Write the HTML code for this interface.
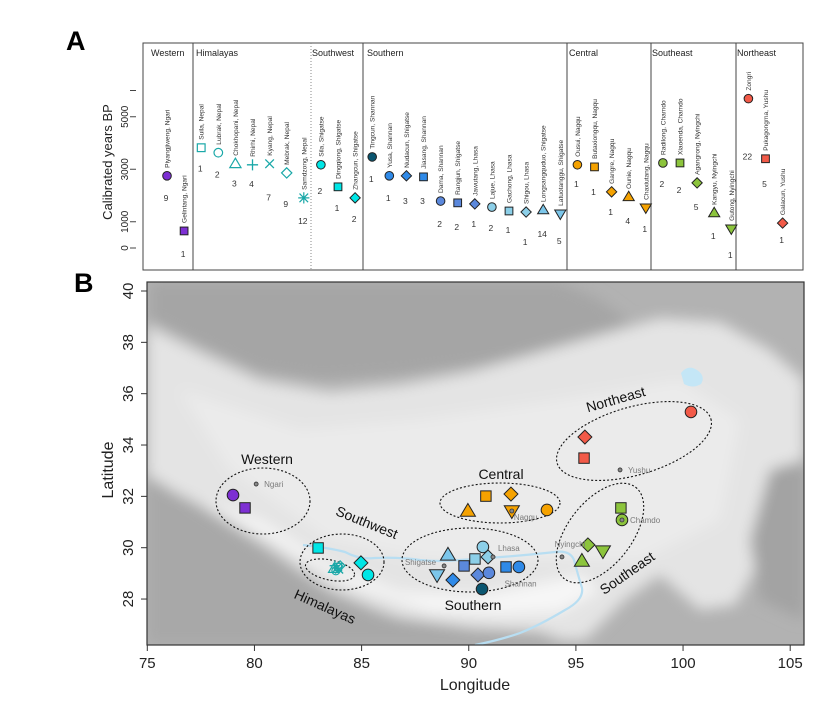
<!DOCTYPE html>
<html><head><meta charset="utf-8"><style>
html,body{margin:0;padding:0;background:#fff}
svg{display:block;font-family:"Liberation Sans",Arial,sans-serif}
</style></head><body>
<svg id="fig" width="832" height="704" viewBox="0 0 832 704">
<defs>
<filter id="blur" x="-10%" y="-10%" width="120%" height="120%"><feGaussianBlur stdDeviation="7"/></filter>
<clipPath id="mapclip"><rect x="147" y="282" width="657" height="363"/></clipPath>
</defs>
<text x="66" y="50" font-size="27" font-weight="bold">A</text>
<text x="74" y="292" font-size="27" font-weight="bold">B</text>
<g id="panelA"></g>
<g id="panelB"></g>
</svg>
<script>
const NS="http://www.w3.org/2000/svg";
function mk(tag,attrs,parent,txt){const e=document.createElementNS(NS,tag);for(const k in attrs)e.setAttribute(k,attrs[k]);if(txt!==undefined)e.textContent=txt;parent.appendChild(e);return e;}

// ---------- Panel A data ----------
const siteNames=["Piyangjiweng, Ngari","Gelintang, Ngari","Suila, Nepal","Lubrak, Nepal","Chokhopani, Nepal","Rhirhi, Nepal","Kyang, Nepal","Mebrak, Nepal","Samdzong, Nepal","Sila, Shigatse","Dingqiong, Shigatse","Zhangcun, Shigatse","Tingcun, Shannan","Yusa, Shannan","Nudacun, Shigatse","Jiasang, Shannan","Dama, Shannan","Rangjun, Shigatse","Jawutang, Lhasa","Lajue, Lhasa","Gachong, Lhasa","Shigou, Lhasa","Longsangquduo, Shigatse","Latuotanggu, Shigatse","Ousui, Nagqu","Butaxiongqu, Nagqu","Gangre, Nagqu","Ounie, Nagqu","Chaxiutang, Nagqu","Radilong, Chamdo","Xiaoenda, Chamdo","Agangrong, Nyingchi","Kangyu, Nyingchi","Gutong, Nyingchi","Zongri","Pukagongma, Yushu","Galacun, Yushu"];
const siteYears=[2750,650,3820,3630,3210,3170,3210,2860,1910,3170,2330,1910,3470,2750,2750,2710,1790,1720,1680,1560,1410,1370,1450,1300,3170,3090,2140,1950,1530,3240,3240,2480,1340,730,5690,3400,950];
const siteCounts=[9,1,1,2,3,4,7,9,12,2,1,2,1,1,3,3,2,2,1,2,1,1,14,5,1,1,1,4,1,2,2,5,1,1,22,5,1];
const siteShapes=["circle","square","osquare","ocircle","otri","plus","cross","odiamond","star","circle","square","diamond","circle","circle","diamond","square","circle","square","diamond","circle","square","diamond","tri","dtri","circle","square","diamond","tri","dtri","circle","square","diamond","tri","dtri","circle","square","diamond"];
const siteColors=["#7d2fd3","#7d2fd3","#1aa8a8","#1aa8a8","#1aa8a8","#1aa8a8","#1aa8a8","#1aa8a8","#1aa8a8","#00e6e6","#00e6e6","#00e6e6","#0b5670","#2f8ae8","#2f8ae8","#2f8ae8","#5b88dc","#5b88dc","#5b88dc","#8ccfe8","#8ccfe8","#8ccfe8","#7cc6ea","#7cc6ea","#f5a200","#f5a200","#f5a200","#f5a200","#f5a200","#8cc43c","#8cc43c","#8cc43c","#8cc43c","#8cc43c","#f25a48","#f25a48","#f25a48"];
// layout: vertical gap (px) between marker and count label
const countGap=[22,23,21,22,20,19,34,31,23,26,21,21,22,22,25,24,23,24,20,21,19,30,24,27,19,25,20,24,21,21,27,24,23,26,58,25,17];
const groupNames=["Western","Himalayas","Southwest","Southern","Central","Southeast","Northeast"];
const yTicksA=[0,1000,3000,5000,6000];
const yLabelsA=[0,1000,3000,5000];

const A=document.getElementById('panelA');
const yA=v=>248-v*0.02625;
const xA=i=>167+i*17.1;
function shape(parent,s,x,y,r,col,name){
  let e;const st={stroke:"#222","stroke-width":1};
  if(s==="circle") e=mk("circle",{cx:x,cy:y,r:r,fill:col,...st},parent);
  else if(s==="square") e=mk("rect",{x:x-r*0.9,y:y-r*0.9,width:r*1.8,height:r*1.8,fill:col,...st},parent);
  else if(s==="diamond") e=mk("polygon",{points:`${x},${y-r*1.2} ${x+r*1.2},${y} ${x},${y+r*1.2} ${x-r*1.2},${y}`,fill:col,...st},parent);
  else if(s==="tri") e=mk("polygon",{points:`${x},${y-r*1.3} ${x+r*1.3},${y+r*0.9} ${x-r*1.3},${y+r*0.9}`,fill:col,...st},parent);
  else if(s==="dtri") e=mk("polygon",{points:`${x},${y+r*1.3} ${x+r*1.3},${y-r*0.9} ${x-r*1.3},${y-r*0.9}`,fill:col,...st},parent);
  else if(s==="osquare") e=mk("rect",{x:x-r*0.9,y:y-r*0.9,width:r*1.8,height:r*1.8,fill:"none",stroke:col,"stroke-width":1.2},parent);
  else if(s==="ocircle") e=mk("circle",{cx:x,cy:y,r:r,fill:"none",stroke:col,"stroke-width":1.2},parent);
  else if(s==="otri") e=mk("polygon",{points:`${x},${y-r*1.3} ${x+r*1.3},${y+r*0.9} ${x-r*1.3},${y+r*0.9}`,fill:"none",stroke:col,"stroke-width":1.2},parent);
  else if(s==="odiamond") e=mk("polygon",{points:`${x},${y-r*1.2} ${x+r*1.2},${y} ${x},${y+r*1.2} ${x-r*1.2},${y}`,fill:"none",stroke:col,"stroke-width":1.2},parent);
  else if(s==="plus") e=mk("path",{d:`M${x-r*1.3},${y}H${x+r*1.3}M${x},${y-r*1.3}V${y+r*1.3}`,stroke:col,"stroke-width":1.3,fill:"none"},parent);
  else if(s==="cross") e=mk("path",{d:`M${x-r},${y-r}L${x+r},${y+r}M${x-r},${y+r}L${x+r},${y-r}`,stroke:col,"stroke-width":1.3,fill:"none"},parent);
  else if(s==="star") e=mk("path",{d:`M${x-r*1.3},${y}H${x+r*1.3}M${x},${y-r*1.3}V${y+r*1.3}M${x-r},${y-r}L${x+r},${y+r}M${x-r},${y+r}L${x+r},${y-r}`,stroke:col,"stroke-width":1.2,fill:"none"},parent);
  return e;
}
// frame
const frame=mk("rect",{x:143,y:43,width:660,height:227,fill:"none",stroke:"#444","stroke-width":1},A);


const divX=[193,363,567,651,736];
divX.forEach(x=>{const l=mk("line",{x1:x,y1:43,x2:x,y2:270,stroke:"#444","stroke-width":1},A);

});
const dl=mk("line",{x1:311,y1:43,x2:311,y2:270,stroke:"#888","stroke-width":1,"stroke-dasharray":"1,2"},A);


const headerX=[151,196,312,367,569,652,737];
groupNames.forEach((g,i)=>{const t=mk("text",{x:headerX[i],y:56,"font-size":9,fill:"#222"},A,g);

});
// y axis
yTicksA.forEach(v=>{const l=mk("line",{x1:130,y1:yA(v),x2:136,y2:yA(v),stroke:"#444"},A);

});
yLabelsA.forEach(v=>{const t=mk("text",{x:0,y:0,"font-size":10,"text-anchor":"middle",fill:"#222",transform:`translate(128,${yA(v)}) rotate(-90)`},A,v);

});
const yt=mk("text",{x:0,y:0,"font-size":13,"text-anchor":"middle",fill:"#222",transform:"translate(112,162) rotate(-90)"},A,"Calibrated years BP");


// sites
siteNames.forEach((n,i)=>{
  const x=xA(i),y=yA(siteYears[i]);
  const m=shape(A,siteShapes[i],x,y,4.3,siteColors[i]);
  
  
  const t=mk("text",{x:0,y:0,"font-size":6.6,fill:"#333",transform:`translate(${x+2.5},${y-8}) rotate(-90)`},A,n);
  
  
  const c=mk("text",{x:x-1,y:y+countGap[i]+3,"font-size":8.5,"text-anchor":"middle",fill:"#333"},A,siteCounts[i]);
  
  
});

// ---------- Panel B data ----------
const mapLon=[79.0,79.56,82.97,84.97,85.30,89.03,88.52,89.26,89.78,90.29,90.66,90.90,90.43,90.94,91.74,92.34,90.62,89.96,90.80,91.97,92.01,93.65,95.42,95.38,100.37,97.10,97.15,95.56,96.26,95.28];
const mapLat=[32.05,31.55,29.99,29.41,28.94,29.72,28.94,28.74,29.29,29.56,30.03,29.64,28.94,29.02,29.25,29.25,28.39,31.43,32.01,32.09,31.43,31.47,34.31,33.49,35.29,31.55,31.08,30.11,29.87,29.48];
const mapShapes=["circle","square","square","diamond","circle","tri","dtri","diamond","square","square","circle","diamond","diamond","circle","square","circle","circle","tri","square","diamond","dtri","circle","diamond","square","circle","square","circle","diamond","dtri","tri"];
const mapColors=["#7d2fd3","#7d2fd3","#00e6e6","#00e6e6","#00e6e6","#7cc6ea","#7cc6ea","#2f8ae8","#5b88dc","#8ccfe8","#8ccfe8","#8ccfe8","#5b88dc","#5b88dc","#2f8ae8","#2f8ae8","#0b5670","#f5a200","#f5a200","#f5a200","#f5a200","#f5a200","#f25a48","#f25a48","#f25a48","#8cc43c","#8cc43c","#8cc43c","#8cc43c","#8cc43c"];
const cityNames=["Ngari","Shigatse","Lhasa","Shannan","Nagqu","Yushu","Chamdo","Nyingchi"];
const cityLon=[80.08,88.85,91.13,91.3,92.01,97.06,97.15,94.35];
const cityLat=[32.48,29.29,29.64,28.6,31.43,33.03,31.08,29.64];
const xTicksB=[75,80,85,90,95,100,105];
const yTicksB=[28,30,32,34,36,38,40];

const B=document.getElementById('panelB');
const xB=lon=>147.3+(lon-75)*21.43;
const yB=lat=>291+(40-lat)*25.67;
const bg=mk("g",{"clip-path":"url(#mapclip)"},B);


mk("rect",{x:147,y:282,width:657,height:363,fill:"#b2b2b2"},bg);
const tg=mk("g",{filter:"url(#blur)"},bg);
mk("path",{d:"M150,282 L560,282 L600,300 L640,330 L560,350 L480,365 L400,375 L320,380 L260,372 L200,345 L150,320 Z",fill:"#a5a5a5"},tg);
mk("path",{d:"M147,325 L200,352 L260,380 L330,392 L400,385 L470,372 L540,352 L600,335 L660,318 L720,322 L770,350 L804,380 L804,470 L780,500 L760,560 L735,605 L700,610 L660,575 L625,600 L585,640 L520,640 L470,628 L400,618 L330,590 L265,545 L200,505 L147,478 Z",fill:"#e4e4e4"},tg);
mk("path",{d:"M180,390 L300,430 L420,420 L560,400 L680,380 L740,420 L720,520 L640,560 L540,560 L430,560 L330,540 L230,470 Z",fill:"#ebebeb"},tg);
mk("path",{d:"M147,475 L220,520 L300,575 L380,615 L470,628 L540,632 L575,645 L147,645 Z",fill:"#a8a8a8"},tg);
mk("path",{d:"M770,470 L804,460 L804,620 L760,600 L750,540 Z",fill:"#a3a3a3"},tg);
mk("path",{d:"M200,500 L280,545 L350,585 L430,612 L500,615 L560,612 L600,590 L580,575 L480,595 L400,592 L330,565 L260,520 Z",fill:"#f6f6f6"},tg);
const lake=mk("path",{d:"M681,373 Q688,364 697,370 Q706,376 701,384 Q693,389 684,384 Z",fill:"#c4e6f6"},bg);


const river=mk("path",{d:"M303,545 Q330,548 345,552 Q360,560 375,558 Q400,557 420,560 Q440,562 460,560 Q520,556 555,552 Q570,550 574,560 Q578,575 582,588 Q584,600 565,610 Q540,625 520,633 Q500,640 475,645",fill:"none",stroke:"#b8def2","stroke-width":2.2},bg);


const fr=mk("rect",{x:147,y:282,width:657,height:363,fill:"none",stroke:"#333","stroke-width":1.2},B);


// axes
xTicksB.forEach(v=>{const l=mk("line",{x1:xB(v),y1:645,x2:xB(v),y2:651,stroke:"#333"},B);


const t=mk("text",{x:xB(v),y:668,"font-size":15,"text-anchor":"middle",fill:"#222"},B,v);

});
yTicksB.forEach(v=>{const l=mk("line",{x1:141,y1:yB(v),x2:147,y2:yB(v),stroke:"#333"},B);


const t=mk("text",{x:0,y:0,"font-size":15,"text-anchor":"middle",fill:"#222",transform:`translate(133,${yB(v)}) rotate(-90)`},B,v);

});
const xt=mk("text",{x:475,y:690,"font-size":16,"text-anchor":"middle",fill:"#222"},B,"Longitude");


const yt2=mk("text",{x:0,y:0,"font-size":16,"text-anchor":"middle",fill:"#222",transform:"translate(113,470) rotate(-90)"},B,"Latitude");


// region ellipses
const ell=[[263,501,47,33,0],[342,562,42,28,0],[330,570,25,10,12],[470,560,68,32,0],[500,503,60,20,0],[634,441,80,34,-16],[600,533,58,32,-52]];
ell.forEach(e=>{const el=mk("ellipse",{cx:e[0],cy:e[1],rx:e[2],ry:e[3],fill:"none",stroke:"#111","stroke-width":1.1,"stroke-dasharray":"2,2",transform:`rotate(${e[4]} ${e[0]} ${e[1]})`},B);

});
const regLab=[["Western",267,464,0],["Southwest",365,527,22],["Himalayas",323,611,24],["Southern",473,610,0],["Central",501,479,0],["Northeast",617,404,-16],["Southeast",630,577,-35]];
regLab.forEach(r=>{const t=mk("text",{x:0,y:0,"font-size":14,"text-anchor":"middle",fill:"#111",transform:`translate(${r[1]},${r[2]}) rotate(${r[3]})`},B,r[0]);

});
// Himalaya cluster (teal symbols)
const hg=mk("g",{},B);


[["star",83.85,29.21],["plus",83.75,29.3],["cross",83.95,29.15],["ocircle",83.8,29.1],["osquare",83.9,29.25],["otri",83.7,29.18],["odiamond",84.0,29.3]].forEach(s=>shape(hg,s[0],xB(s[1]),yB(s[2]),4,"#1aa8a8"));
// sites
mapLon.forEach((lon,i)=>{const m=shape(B,mapShapes[i],xB(lon),yB(mapLat[i]),5.8,mapColors[i]);

});
// cities
cityNames.forEach((c,i)=>{const x=xB(cityLon[i]),y=yB(cityLat[i]);
if(c!=="Shannan"){const d=mk("circle",{cx:x,cy:y,r:2,fill:"#888",stroke:"#333","stroke-width":0.8},B);

}
let tx=x+8,ty=y+3,anc="start";
if(c==="Shigatse"){tx=x-8;anc="end";ty=y-1;}
if(c==="Lhasa"){tx=x+5;ty=y-6;}
if(c==="Nyingchi"){tx=x+8;ty=y-10;anc="middle";}
if(c==="Nagqu"){tx=x+2;ty=y+9;}
const t=mk("text",{x:tx,y:ty,"font-size":8,"text-anchor":anc,fill:"#7a7a7a"},B,c);

});
</script>
</body></html>
